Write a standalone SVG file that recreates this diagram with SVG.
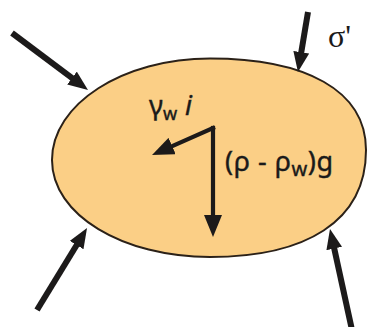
<svg xmlns="http://www.w3.org/2000/svg" width="367" height="327" viewBox="0 0 367 327">
  <style>
    .arrow { fill: none; stroke: #1c1a1a; stroke-width: 6; }
    .inner { fill: none; stroke: #1c1a1a; stroke-width: 4.2; stroke-linecap: square; }
    .lbl { font-family: "Noto Sans", "DejaVu Sans", sans-serif; fill: #1a1a1a; stroke: #1a1a1a; stroke-width: 0.4; }
    .sig { font-family: "Liberation Serif", "DejaVu Serif", serif; fill: #1a1a1a; }
  </style>
  <defs>
    <marker id="head" viewBox="0 0 20 16" refX="4" refY="8" markerUnits="userSpaceOnUse" markerWidth="20" markerHeight="16" orient="auto">
      <path d="M0,0 L20,8 L0,16 z" fill="#1c1a1a"/>
    </marker>
    <marker id="headIn" viewBox="0 0 22 18" refX="4" refY="9" markerUnits="userSpaceOnUse" markerWidth="22" markerHeight="18" orient="auto">
      <path d="M0,0 L22,9 L0,18 z" fill="#1c1a1a"/>
    </marker>
  </defs>
  <rect width="367" height="327" fill="#ffffff"/>
  <g id="particle">
    <path d="M52,160 C52,104 123,58.5 210,58.5 C305,58.5 366,90 366,150 C366,222 305,257 210,257 C123,257 52,215 52,160 Z" fill="#fbcf86" stroke="#2b2118" stroke-width="2"/>
  </g>
  <g id="connectors">
    <path class="arrow" d="M12,33 L75.2,80.4" marker-end="url(#head)"/>
    <path class="arrow" d="M308,12 L300.6,56.2" marker-end="url(#head)"/>
    <path class="arrow" d="M37,310 L78.7,241.7" marker-end="url(#head)"/>
    <path class="arrow" d="M352,330 L333.4,244.6" marker-end="url(#head)"/>
    <path class="inner" d="M213,128 L213,219" marker-end="url(#headIn)"/>
    <path class="inner" d="M213,128 L168.5,147.7" marker-end="url(#headIn)"/>
  </g>
  <g id="labels">
    <text class="sig" x="328" y="47" font-size="32">σ'</text>
    <text class="lbl" x="149" y="115" font-size="27">γ<tspan font-size="18" dy="5">w</tspan><tspan x="185" dy="-5" font-style="italic">i</tspan></text>
    <text class="lbl" x="225" y="171" font-size="27" textLength="108" lengthAdjust="spacing">(ρ - ρ<tspan font-size="20" dy="5">w</tspan><tspan dy="-5">)g</tspan></text>
  </g>
</svg>
